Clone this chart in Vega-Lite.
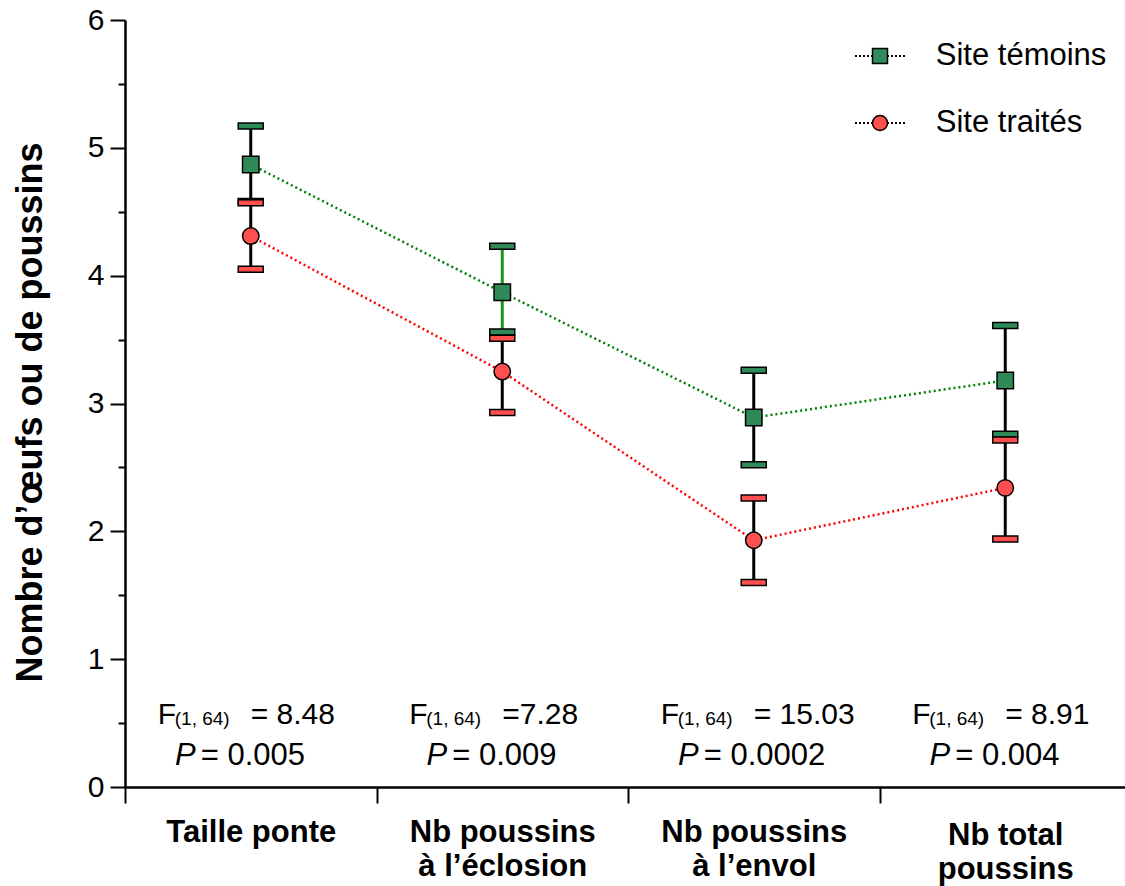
{
  "$schema": "https://vega.github.io/schema/vega-lite/v6.json",
  "width": 1000,
  "height": 767,
  "autosize": {"type": "none"},
  "padding": {"left": 125, "top": 20, "right": 0, "bottom": 99},
  "background": "white",
  "config": {"view": {"stroke": null}, "font": "Liberation Sans"},
  "datasets": {
    "pts": [
      {"cat": "Taille ponte", "site": "traités", "mean": 4.31, "lo": 4.05, "hi": 4.57},
      {"cat": "Nb poussins à l’éclosion", "site": "traités", "mean": 3.25, "lo": 2.93, "hi": 3.51},
      {"cat": "Nb poussins à l’envol", "site": "traités", "mean": 1.93, "lo": 1.6, "hi": 2.26},
      {"cat": "Nb total poussins", "site": "traités", "mean": 2.34, "lo": 1.94, "hi": 2.715},
      {"cat": "Taille ponte", "site": "témoins", "mean": 4.87, "lo": 4.58, "hi": 5.17},
      {"cat": "Nb poussins à l’éclosion", "site": "témoins", "mean": 3.87, "lo": 3.56, "hi": 4.23},
      {"cat": "Nb poussins à l’envol", "site": "témoins", "mean": 2.89, "lo": 2.52, "hi": 3.26},
      {"cat": "Nb total poussins", "site": "témoins", "mean": 3.18, "lo": 2.76, "hi": 3.61}
    ],
    "stats": [
      {"cat": "Taille ponte", "f": "F", "df": "(1, 64)", "fval": "= 8.48", "p": "P", "pval": "= 0.005"},
      {"cat": "Nb poussins à l’éclosion", "f": "F", "df": "(1, 64)", "fval": "=7.28", "p": "P", "pval": "= 0.009"},
      {"cat": "Nb poussins à l’envol", "f": "F", "df": "(1, 64)", "fval": "= 15.03", "p": "P", "pval": "= 0.0002"},
      {"cat": "Nb total poussins", "f": "F", "df": "(1, 64)", "fval": "= 8.91", "p": "P", "pval": "= 0.004"}
    ],
    "leg": [
      {"site": "témoins", "label": "Site témoins"},
      {"site": "traités", "label": "Site traités"}
    ]
  },
  "layer": [
    {
      "encoding": {
        "x": {
          "field": "cat",
          "type": "nominal",
          "sort": ["Taille ponte", "Nb poussins à l’éclosion", "Nb poussins à l’envol", "Nb total poussins"],
          "scale": {"type": "band", "range": [0, 1006], "paddingInner": 0, "paddingOuter": 0},
          "axis": {
            "title": null,
            "tickBand": "extent",
            "tickSize": 16,
            "tickWidth": 2,
            "tickColor": "black",
            "domainColor": "black",
            "domainWidth": 2.5,
            "labelFont": "Liberation Sans",
            "labelFontSize": 31,
            "labelFontWeight": "bold",
            "labelColor": "black",
            "labelAngle": 0,
            "labelBaseline": "top",
            "labelLineHeight": 34,
            "labelPadding": {"condition": {"test": "datum.value == 'Nb total poussins'", "value": 17}, "value": 14},
            "labelLimit": 500,
            "labelOverlap": false,
            "labelExpr": "datum.label == 'Taille ponte' ? 'Taille ponte' : (datum.label == 'Nb total poussins' ? ['Nb total', 'poussins'] : [slice(datum.label, 0, 11), slice(datum.label, 12)])"
          }
        }
      },
      "layer": [
        {
          "data": {"name": "pts"},
          "mark": {"type": "rule", "strokeWidth": 3},
          "encoding": {
            "y": {
              "field": "lo",
              "type": "quantitative",
              "scale": {"domain": [0, 6], "nice": false, "zero": false},
              "axis": {
                "title": "Nombre d’œufs ou de poussins",
                "titleFont": "Liberation Sans",
                "titleFontSize": 36,
                "titleFontWeight": "bold",
                "titleColor": "black",
                "titlePadding": 38,
                "titleY": 392,
                "values": [0, 0.5, 1, 1.5, 2, 2.5, 3, 3.5, 4, 4.5, 5, 5.5, 6],
                "labelExpr": "datum.value % 1 == 0 ? '' + datum.value : ''",
                "labelFont": "Liberation Sans",
                "labelFontSize": 30,
                "labelColor": "black",
                "labelPadding": 6,
                "tickSize": {"condition": {"test": "datum.value % 1 == 0", "value": 15}, "value": 7},
                "tickColor": "black",
                "tickWidth": 2,
                "domainColor": "black",
                "domainWidth": 2.5,
                "grid": false
              }
            },
            "y2": {"field": "hi"},
            "stroke": {
              "condition": {"test": "datum.site == 'témoins' && indexof(datum.cat, 'éclosion') >= 0", "value": "#1e941e"},
              "value": "black"
            }
          }
        },
        {
          "data": {"name": "pts"},
          "mark": {"type": "tick", "orient": "horizontal", "size": 25, "thickness": 6, "stroke": "black", "strokeWidth": 1.5, "opacity": 1},
          "encoding": {
            "y": {"field": "lo", "type": "quantitative"},
            "fill": {"field": "site", "type": "nominal", "scale": {"domain": ["témoins", "traités"], "range": ["#2e8b57", "#ff4f4f"]}, "legend": null}
          }
        },
        {
          "data": {"name": "pts"},
          "mark": {"type": "tick", "orient": "horizontal", "size": 25, "thickness": 6, "stroke": "black", "strokeWidth": 1.5, "opacity": 1},
          "encoding": {
            "y": {"field": "hi", "type": "quantitative"},
            "fill": {"field": "site", "type": "nominal", "legend": null}
          }
        },
        {
          "data": {"name": "pts"},
          "mark": {"type": "line", "strokeDash": [2, 3], "strokeWidth": 2.5},
          "encoding": {
            "y": {"field": "mean", "type": "quantitative"},
            "stroke": {"field": "site", "type": "nominal", "scale": {"domain": ["témoins", "traités"], "range": ["#008000", "#ff0000"]}, "legend": null}
          }
        },
        {
          "data": {"name": "pts"},
          "mark": {"type": "point", "filled": true, "size": 270, "stroke": "black", "strokeWidth": 1.5, "opacity": 1},
          "encoding": {
            "y": {"field": "mean", "type": "quantitative"},
            "fill": {"field": "site", "type": "nominal", "legend": null},
            "shape": {"condition": {"test": "datum.site == 'témoins'", "value": "square"}, "value": "circle"}
          }
        },
        {
          "data": {"name": "stats"},
          "mark": {"type": "text", "align": "left", "baseline": "middle", "dx": -93, "fontSize": 30, "font": "Liberation Sans", "color": "black"},
          "encoding": {"y": {"datum": 0.563, "type": "quantitative"}, "text": {"field": "f"}}
        },
        {
          "data": {"name": "stats"},
          "mark": {"type": "text", "align": "left", "baseline": "middle", "dx": -76, "dy": 4, "fontSize": 19, "font": "Liberation Sans", "color": "black"},
          "encoding": {"y": {"datum": 0.563, "type": "quantitative"}, "text": {"field": "df"}}
        },
        {
          "data": {"name": "stats"},
          "mark": {"type": "text", "align": "left", "baseline": "middle", "dx": 0, "fontSize": 30, "font": "Liberation Sans", "color": "black"},
          "encoding": {"y": {"datum": 0.563, "type": "quantitative"}, "text": {"field": "fval"}}
        },
        {
          "data": {"name": "stats"},
          "mark": {"type": "text", "align": "right", "baseline": "middle", "dx": -55, "fontSize": 31, "fontStyle": "italic", "font": "Liberation Sans", "color": "black"},
          "encoding": {"y": {"datum": 0.243, "type": "quantitative"}, "text": {"field": "p"}}
        },
        {
          "data": {"name": "stats"},
          "mark": {"type": "text", "align": "left", "baseline": "middle", "dx": -50, "fontSize": 31, "font": "Liberation Sans", "color": "black"},
          "encoding": {"y": {"datum": 0.243, "type": "quantitative"}, "text": {"field": "pval"}}
        }
      ]
    },
    {
      "data": {"name": "leg"},
      "encoding": {
        "x": {"datum": "Nb total poussins", "type": "nominal"},
        "y": {
          "field": "site",
          "type": "nominal",
          "scale": {"type": "point", "domain": ["témoins", "traités"], "range": [36, 103], "padding": 0},
          "axis": null
        }
      },
      "layer": [
        {
          "mark": {
            "type": "point",
            "shape": "M-1,0H-0.92M-0.84,0H-0.76M-0.68,0H-0.6M-0.52,0H-0.44M-0.36,0H-0.28M0.28,0H0.36M0.44,0H0.52M0.6,0H0.68M0.76,0H0.84M0.92,0H1",
            "size": 2500,
            "filled": false,
            "stroke": "black",
            "strokeWidth": 2,
            "opacity": 1
          },
          "encoding": {"xOffset": {"value": 0.5}}
        },
        {
          "mark": {"type": "point", "filled": true, "size": 225, "stroke": "black", "strokeWidth": 1.5, "opacity": 1},
          "encoding": {
            "xOffset": {"value": 0.5},
            "fill": {"field": "site", "type": "nominal", "legend": null},
            "shape": {"condition": {"test": "datum.site == 'témoins'", "value": "square"}, "value": "circle"}
          }
        },
        {
          "mark": {"type": "text", "align": "left", "baseline": "middle", "dx": -69.5, "fontSize": 31, "font": "Liberation Sans", "color": "black"},
          "encoding": {"text": {"field": "label"}}
        }
      ]
    }
  ],
  "resolve": {"scale": {"y": "independent"}}
}
